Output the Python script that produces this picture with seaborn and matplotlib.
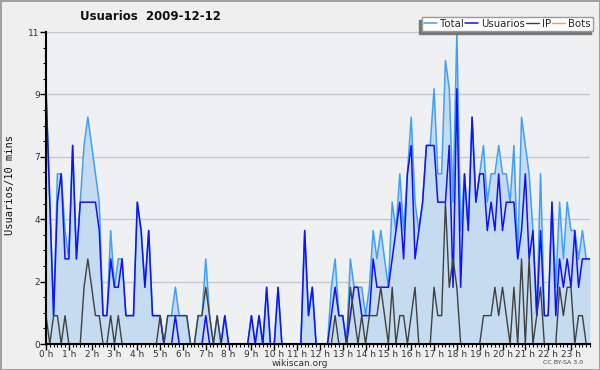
import numpy as np
import pandas as pd
import matplotlib.pyplot as plt
import seaborn as sns

# valores cada 10 minutos (144 puntos, 0h00 -> 23h50)
total = [9, 5, 1, 6, 6, 4, 3, 7, 3, 5, 7, 8, 7, 6, 5, 1, 1, 4, 2, 3,
         3, 1, 1, 1, 5, 4, 2, 4, 1, 1, 1, 0, 1, 1, 2, 1, 1, 1, 0, 0,
         1, 1, 3, 1, 0, 1, 0, 1, 0, 0, 0, 0, 0, 0, 1, 0, 1, 0, 2, 0,
         0, 2, 0, 0, 0, 0, 0, 0, 4, 1, 2, 0, 0, 0, 0, 2, 3, 1, 1, 0,
         3, 2, 2, 2, 1, 2, 4, 3, 4, 3, 2, 5, 4, 6, 4, 6, 8, 5, 4, 5,
         7, 7, 9, 6, 6, 10, 9, 5, 11, 4, 6, 4, 8, 5, 6, 7, 5, 6, 6, 7,
         6, 6, 5, 7, 3, 8, 7, 6, 4, 1, 6, 1, 1, 5, 2, 5, 3, 5, 4, 4,
         3, 4, 3, 3]
usuarios = [9, 5, 1, 5, 6, 3, 3, 7, 3, 5, 5, 5, 5, 5, 4, 1, 1, 3, 2, 2,
            3, 1, 1, 1, 5, 4, 2, 4, 1, 1, 1, 0, 0, 0, 1, 0, 0, 0, 0, 0,
            0, 0, 1, 0, 0, 0, 0, 1, 0, 0, 0, 0, 0, 0, 1, 0, 1, 0, 2, 0,
            0, 2, 0, 0, 0, 0, 0, 0, 4, 1, 2, 0, 0, 0, 0, 1, 2, 1, 1, 0,
            1, 2, 2, 1, 1, 1, 3, 2, 2, 2, 2, 3, 4, 5, 3, 6, 7, 3, 4, 5,
            7, 7, 7, 5, 5, 5, 7, 2, 9, 2, 6, 4, 8, 5, 6, 6, 4, 5, 4, 6,
            4, 5, 5, 5, 3, 4, 6, 3, 4, 1, 4, 1, 1, 5, 1, 3, 2, 3, 2, 4,
            2, 3, 3, 3]
ip = [1, 0, 1, 1, 0, 1, 0, 0, 0, 0, 2, 3, 2, 1, 1, 0, 0, 1, 0, 1,
      0, 0, 0, 0, 0, 0, 0, 0, 0, 0, 1, 0, 1, 1, 1, 1, 1, 1, 0, 0,
      1, 1, 2, 1, 0, 1, 0, 0, 0, 0, 0, 0, 0, 0, 0, 0, 0, 0, 0, 0,
      0, 0, 0, 0, 0, 0, 0, 0, 0, 0, 0, 0, 0, 0, 0, 0, 1, 0, 0, 0,
      2, 1, 0, 1, 0, 1, 1, 1, 2, 1, 0, 2, 0, 1, 1, 0, 1, 2, 0, 0,
      0, 0, 2, 1, 1, 5, 2, 3, 2, 0, 0, 0, 0, 0, 0, 1, 1, 1, 2, 1,
      2, 1, 0, 2, 0, 3, 0, 3, 0, 1, 2, 0, 0, 0, 0, 2, 1, 2, 2, 0,
      1, 1, 0, 0]
bots = [0] * 144
horas = [f"{h} h" for h in range(24)]
ytick_labels = ["0", "2", "4", "7", "9", "11"]

df = pd.DataFrame({"slot": np.arange(len(total)), "Total": total,
                   "Usuarios": usuarios, "IP": ip, "Bots": bots})

sns.set_theme(style="white")
plt.rcParams["font.family"] = ["DejaVu Sans"]

fig = plt.figure(figsize=(6, 3.7), dpi=100, facecolor="#efefef",
                 edgecolor="#a0a0a0", linewidth=2)
ax = fig.add_axes([46 / 600, 1 - 344 / 370, 544 / 600, 312 / 370])
ax.set_facecolor("#eef0f2")

ax.fill_between(df["slot"], df["Total"], color="#c5dcf0", lw=0, zorder=1)
sns.lineplot(data=df, x="slot", y="Total", color="#40a0f8", lw=1.1, ax=ax, label="Total")
sns.lineplot(data=df, x="slot", y="Usuarios", color="#1010ff", lw=1.1, ax=ax, label="Usuarios")
sns.lineplot(data=df, x="slot", y="IP", color="#404040", lw=1.0, ax=ax, label="IP")
sns.lineplot(data=df, x="slot", y="Bots", color="#ffa020", lw=1.0, ax=ax, label="Bots")

ax.set_xlim(0, 143)
ax.set_ylim(0, 11)
ax.set_xticks(np.arange(0, 144, 6), horas)
ax.set_xticks(np.arange(0, 144), minor=True)
ax.set_yticks(np.linspace(0, 11, 6), ytick_labels)
ax.set_yticks(np.arange(0, 11.01, 0.55), minor=True)
ax.tick_params(axis="both", which="both", direction="out", color="black",
               labelsize=6.5, labelcolor="#333333", pad=0.5, left=True, bottom=True)
ax.tick_params(which="major", length=4, width=1)
ax.tick_params(which="minor", length=2.5, width=0.8)
ax.grid(axis="y", color="#c8c8c8", lw=1)
ax.set_axisbelow(True)
ax.set_xlabel("")
ax.set_ylabel("")
for s in ["top", "right"]:
    ax.spines[s].set_visible(False)
for s in ["left", "bottom"]:
    ax.spines[s].set_color("black")
    ax.spines[s].set_linewidth(1.5)

handles, labels = ax.get_legend_handles_labels()
ax.legend(handles, labels, ncol=4, loc="upper right",
          bbox_to_anchor=(593 / 600, 1 - 17 / 370), bbox_transform=fig.transFigure,
          fontsize=7.3, frameon=True, fancybox=False, edgecolor="#999999", framealpha=1,
          handlelength=1.3, handletextpad=0.3, columnspacing=0.1, borderpad=0.2,
          borderaxespad=0, shadow={"ox": -1.8, "oy": -1.8, "color": "#777777", "alpha": 1})

fig.text(0.25, 1 - 17 / 370, "Usuarios  2009-12-12", ha="center", va="center",
         fontsize=8.5, fontweight="bold", color="#111111")
fig.text(10 / 600, 1 - 185 / 370, "Usuarios/10 mins", rotation=90, ha="center",
         va="center", fontsize=7.5, family="DejaVu Sans Mono", color="#111111")
fig.text(0.5, 1 - 363 / 370, "wikiscan.org", ha="center", va="center",
         fontsize=6.5, color="#333333")
fig.text(563 / 600, 1 - 363 / 370, "CC BY-SA 3.0", ha="center", va="center",
         fontsize=4.5, color="#444444")

plt.savefig("out.png", dpi=100, facecolor=fig.get_facecolor(), edgecolor=fig.get_edgecolor())
